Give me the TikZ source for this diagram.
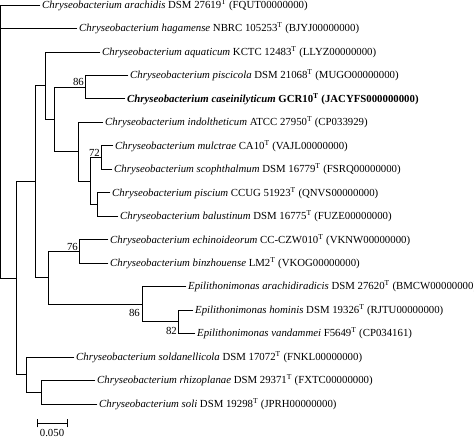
\documentclass[tikz,border=0pt]{standalone}
\usepackage{fontspec}
\setmainfont{Liberation Serif}
\begin{document}
\begin{tikzpicture}[x=1pt,y=-1pt,
  br/.style={line width=0.9pt, line cap=rect},
  leaf/.style={anchor=west, inner xsep=2pt, inner ysep=0pt, font=\fontsize{10.8}{12}\selectfont},
  boot/.style={inner sep=1pt, font=\fontsize{10.8}{12}\selectfont}]
\useasboundingbox (0,0) rectangle (474,437);
% leaves
\node[leaf] (l1) at (40,5.5) {\textit{Chryseobacterium arachidis} DSM 27619\textsuperscript{T} (FQUT00000000)};
\node[leaf] (l2) at (77,28.5) {\textit{Chryseobacterium hagamense} NBRC 105253\textsuperscript{T} (BJYJ00000000)};
\node[leaf] (l3) at (100,52) {\textit{Chryseobacterium aquaticum} KCTC 12483\textsuperscript{T} (LLYZ00000000)};
\node[leaf] (l4) at (128,75.4) {\textit{Chryseobacterium piscicola} DSM 21068\textsuperscript{T} (MUGO00000000)};
\node[leaf] (l5) at (125,98.9) {\textbf{\textit{Chryseobacterium caseinilyticum}} \textbf{GCR10\textsuperscript{T} (JACYFS000000000)}};
\node[leaf] (l6) at (103,122.4) {\textit{Chryseobacterium indoltheticum} ATCC 27950\textsuperscript{T} (CP033929)};
\node[leaf] (l7) at (113,145.8) {\textit{Chryseobacterium mulctrae} CA10\textsuperscript{T} (VAJL00000000)};
\node[leaf] (l8) at (112,169.3) {\textit{Chryseobacterium scophthalmum} DSM 16779\textsuperscript{T} (FSRQ00000000)};
\node[leaf] (l9) at (110,192.8) {\textit{Chryseobacterium piscium} CCUG 51923\textsuperscript{T} (QNVS00000000)};
\node[leaf] (l10) at (118,216.2) {\textit{Chryseobacterium balustinum} DSM 16775\textsuperscript{T} (FUZE00000000)};
\node[leaf] (l11) at (108,239.7) {\textit{Chryseobacterium echinoideorum} CC-CZW010\textsuperscript{T} (VKNW00000000)};
\node[leaf] (l12) at (108,263.2) {\textit{Chryseobacterium binzhouense} LM2\textsuperscript{T} (VKOG00000000)};
\node[leaf] (l13) at (186,286.6) {\textit{Epilithonimonas arachidiradicis} DSM 27620\textsuperscript{T} (BMCW00000000)};
\node[leaf] (l14) at (193,310.1) {\textit{Epilithonimonas hominis} DSM 19326\textsuperscript{T} (RJTU00000000)};
\node[leaf] (l15) at (195,333.6) {\textit{Epilithonimonas vandammei} F5649\textsuperscript{T} (CP034161)};
\node[leaf] (l16) at (74,357.1) {\textit{Chryseobacterium soldanellicola} DSM 17072\textsuperscript{T} (FNKL00000000)};
\node[leaf] (l17) at (95,380.5) {\textit{Chryseobacterium rhizoplanae} DSM 29371\textsuperscript{T} (FXTC00000000)};
\node[leaf] (l18) at (97,404) {\textit{Chryseobacterium soli} DSM 19298\textsuperscript{T} (JPRH00000000)};
% internal nodes
\coordinate (R) at (0.5,5.5);
\coordinate (A) at (16,278.2);
\coordinate (B) at (35,181.75);
\coordinate (C) at (45,85.7);
\coordinate (D) at (54,119.4);
\coordinate (E) at (85,87.15);
\coordinate (F) at (78,151.7);
\coordinate (G) at (90,181);
\coordinate (H) at (101,157.55);
\coordinate (I) at (97,204.5);
\coordinate (J) at (48,277.8);
\coordinate (K) at (79,251.45);
\coordinate (L) at (142,304.2);
\coordinate (N) at (178,321.85);
\coordinate (M) at (26,374.7);
\coordinate (O) at (41,392.25);
% branches
\draw[br] (R) -- (l1);
\draw[br] (R) |- (l2);
\draw[br] (R) |- (A);
\draw[br] (A) |- (B);
\draw[br] (A) |- (M);
\draw[br] (B) |- (C);
\draw[br] (B) |- (J);
\draw[br] (C) |- (l3);
\draw[br] (C) |- (D);
\draw[br] (D) |- (E);
\draw[br] (D) |- (F);
\draw[br] (E) |- (l4);
\draw[br] (E) |- (l5);
\draw[br] (F) |- (l6);
\draw[br] (F) |- (G);
\draw[br] (G) |- (H);
\draw[br] (G) |- (I);
\draw[br] (H) |- (l7);
\draw[br] (H) |- (l8);
\draw[br] (I) |- (l9);
\draw[br] (I) |- (l10);
\draw[br] (J) |- (K);
\draw[br] (J) |- (L);
\draw[br] (K) |- (l11);
\draw[br] (K) |- (l12);
\draw[br] (L) |- (l13);
\draw[br] (L) |- (N);
\draw[br] (N) |- (l14);
\draw[br] (N) |- (l15);
\draw[br] (M) |- (l16);
\draw[br] (M) |- (O);
\draw[br] (O) |- (l17);
\draw[br] (O) |- (l18);
% bootstrap values
\node[boot, anchor=south east] (bE) at (E) {86};
\node[boot, anchor=south east] (bH) at (H) {72};
\node[boot, anchor=south east] (bK) at (K) {76};
\node[boot, anchor=north east, xshift=-1pt, yshift=-3.5pt] (bL) at (L) {86};
\node[boot, anchor=north east, yshift=-4pt] (bN) at (N) {82};
% scale bar
\coordinate (s1) at (37,423);
\coordinate (s2) at (67,423);
\coordinate (s1a) at (37,419);
\coordinate (s1b) at (37,427);
\coordinate (s2a) at (67,419);
\coordinate (s2b) at (67,427);
\draw[br] (s1) -- (s2);
\draw[br] (s1a) -- (s1b);
\draw[br] (s2a) -- (s2b);
\node[boot, anchor=north] (sl) at (52,428.5) {0.050};
\end{tikzpicture}
\end{document}
